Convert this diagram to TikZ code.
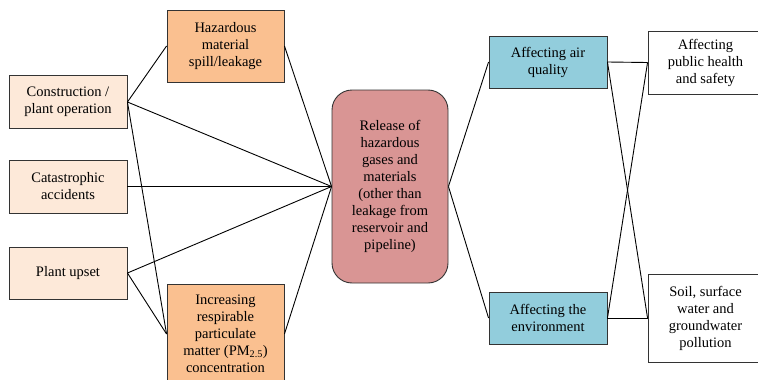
\documentclass[tikz,border=0pt]{standalone}
\usepackage{fontspec}
\setmainfont{Liberation Serif}
\definecolor{peach}{HTML}{FDE9D9}
\definecolor{orng}{HTML}{FAC090}
\definecolor{rosy}{HTML}{D99594}
\definecolor{skyb}{HTML}{92CDDC}
\begin{document}
\begin{tikzpicture}[x=1pt,y=-1pt,
  every node/.style={font=\fontsize{14.5}{17}\selectfont, align=center, inner sep=0pt, line width=0.9pt, draw=black!80},
  srcbox/.style={rectangle, fill=peach, minimum width=118pt, minimum height=53pt},
  midbox/.style={rectangle, fill=orng, minimum width=117pt},
  hubbox/.style={rectangle, rounded corners=20pt, fill=rosy, minimum width=116pt, minimum height=193pt},
  effbox/.style={rectangle, fill=skyb, minimum width=118pt, minimum height=52pt},
  outbox/.style={rectangle, fill=white, minimum width=115pt},
  link/.style={draw=black, line width=0.9pt}]
\useasboundingbox (0,0) rectangle (758,380);
\node[midbox, minimum height=72pt] (haz) at (225.5,46) {Hazardous\\material\\spill/leakage};
\node[srcbox] (con) at (68,102) {Construction /\\plant operation};
\node[srcbox] (cat) at (68,186.5) {Catastrophic\\accidents};
\node[srcbox, minimum height=52pt] (ups) at (68,273) {Plant upset};
\node[midbox, minimum height=100pt] (pm) at (225.5,334) {Increasing\\respirable\\particulate\\matter (PM\textsubscript{2.5})\\concentration};
\node[hubbox] (hub) at (390,186.5) {Release of\\hazardous\\gases and\\materials\\(other than\\leakage from\\reservoir and\\pipeline)};
\node[effbox] (air) at (548,62) {Affecting air\\quality};
\node[effbox] (env) at (548,318) {Affecting the\\environment};
\node[outbox, minimum height=63pt] (pub) at (705.5,62.5) {Affecting\\public health\\and safety};
\node[outbox, minimum height=88pt] (soil) at (705.5,318) {Soil, surface\\water and\\groundwater\\pollution};
\draw[link] (con.east) -- (haz.west);
\draw[link] (con.east) -- (hub.west);
\draw[link] (con.east) -- (pm.west);
\draw[link] (cat.east) -- (hub.west);
\draw[link] (ups.east) -- (hub.west);
\draw[link] (ups.east) -- (pm.west);
\draw[link] (haz.east) -- (hub.west);
\draw[link] (pm.east) -- (hub.west);
\draw[link] (hub.east) -- (air.west);
\draw[link] (hub.east) -- (env.west);
\draw[link] (air.east) -- (pub.west);
\draw[link] (air.east) -- (soil.west);
\draw[link] (env.east) -- (pub.west);
\draw[link] (env.east) -- (soil.west);
\end{tikzpicture}
\end{document}
